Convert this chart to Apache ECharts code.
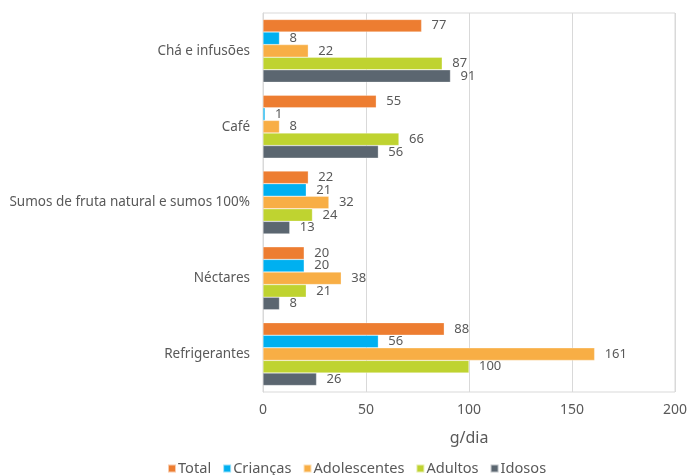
<!DOCTYPE html>
<html>
<head>
<meta charset="utf-8">
<script src="https://cdn.jsdelivr.net/npm/echarts@6/dist/echarts.min.js"></script>
<style>html,body{margin:0;padding:0;background:#fff}#c{width:689px;height:475px}</style>
</head>
<body>
<div id="c"></div>
<script>
var categories = ['Chá e infusões', 'Café', 'Sumos de fruta natural e sumos 100%', 'Néctares', 'Refrigerantes'];
var seriesNames = ['Total', 'Crianças', 'Adolescentes', 'Adultos', 'Idosos'];
var total = [77, 55, 22, 20, 88];
var criancas = [8, 1, 21, 20, 56];
var adolescentes = [22, 8, 32, 38, 161];
var adultos = [87, 66, 24, 21, 100];
var idosos = [91, 56, 13, 8, 26];
var xTicks = [0, 50, 100, 150, 200];
var colors = ['#ED7D31', '#00B0F0', '#F8AE45', '#BFD330', '#5B6670'];
var seriesData = [total, criancas, adolescentes, adultos, idosos];

var font = 'Noto Sans';
var chart = echarts.init(document.getElementById('c'));
chart.setOption({
  animation: false,
  textStyle: { fontFamily: font },
  grid: { left: 263, right: 14, top: 13, bottom: 83, show: true, borderColor: '#d9d9d9', borderWidth: 1, outerBoundsMode: 'none', containLabel: false },
  legend: {
    top: 456, left: 162,
    itemWidth: 8, itemHeight: 8, itemGap: 11,
    icon: 'rect',
    textStyle: { fontFamily: font, fontSize: 14.6, color: '#595959', padding: [0, 0, 0, -3] },
    data: seriesNames
  },
  xAxis: {
    type: 'value', min: xTicks[0], max: xTicks[xTicks.length - 1], interval: 50,
    name: 'g/dia', nameLocation: 'middle', nameGap: 38,
    nameTextStyle: { fontFamily: font, fontSize: 16, color: '#595959' },
    axisLabel: { fontFamily: font, fontSize: 14, color: '#595959', margin: 11 },
    axisLine: { show: false }, axisTick: { show: false },
    splitLine: { lineStyle: { color: '#d9d9d9', width: 1 } }
  },
  yAxis: {
    type: 'category', data: categories, inverse: true,
    axisLabel: { fontFamily: font, fontSize: 13.5, color: '#595959', margin: 13 },
    axisLine: { show: true, lineStyle: { color: '#d9d9d9' } },
    axisTick: { show: false }
  },
  series: seriesNames.map(function (n, i) {
    return {
      name: n, type: 'bar', data: seriesData[i],
      barCategoryGap: '17%', barGap: '0%',
      itemStyle: { color: colors[i], borderColor: 'rgba(255,255,255,0.6)', borderWidth: 0.5 },
      label: { show: true, position: 'right', distance: 10, fontFamily: font, fontSize: 13, color: '#595959' }
    };
  })
});
</script>
</body>
</html>
